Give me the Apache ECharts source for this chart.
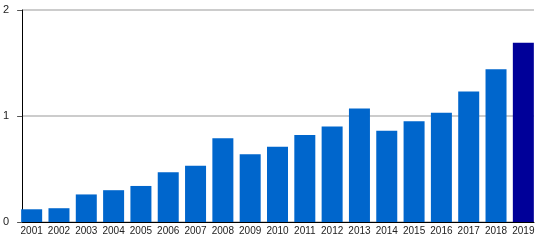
<!DOCTYPE html>
<html>
<head>
<meta charset="utf-8">
<script src="https://cdn.jsdelivr.net/npm/echarts@6/dist/echarts.min.js"></script>
<style>html,body{margin:0;padding:0;background:#fff}#c{width:540px;height:240px}</style>
</head>
<body>
<div id="c"></div>
<script>
const years = ['2001','2002','2003','2004','2005','2006','2007','2008','2009','2010','2011','2012','2013','2014','2015','2016','2017','2018','2019'];
const values = [0.12,0.13,0.26,0.30,0.34,0.47,0.53,0.79,0.64,0.71,0.82,0.90,1.07,0.86,0.95,1.03,1.23,1.44,1.69];
const yTicks = [0,1,2];
const barColor = '#0066cc';
const lastColor = '#000099';

const chart = echarts.init(document.getElementById('c'), null, {renderer:'canvas'});
const font = 'Liberation Sans, Arial, sans-serif';
chart.setOption({
  animation:false,
  grid:[
    {left:21, right:6, top:10, bottom:18},
    {left:18, right:3, top:10, bottom:18}
  ],
  xAxis:[
    {type:'category', gridIndex:0, data:years, axisLine:{lineStyle:{color:'#000', width:1}}, axisTick:{show:false}, axisLabel:{show:false}},
    {type:'category', gridIndex:1, data:years, axisLine:{show:false}, axisTick:{show:false},
     axisLabel:{color:'#222', fontSize:10, fontFamily:font, margin:4, interval:0}}
  ],
  yAxis:[
    {type:'value', gridIndex:0, min:yTicks[0], max:yTicks[yTicks.length-1], interval:1,
     axisLine:{show:true, lineStyle:{color:'#000', width:1}},
     axisTick:{show:true, length:5, lineStyle:{color:'#555'}},
     axisLabel:{color:'#222', fontSize:11, fontFamily:font, margin:13},
     splitLine:{show:true, lineStyle:{color:'#ccc', width:2}}},
    {type:'value', gridIndex:1, min:yTicks[0], max:yTicks[yTicks.length-1], interval:1, show:false}
  ],
  series:[{
    type:'bar', xAxisIndex:1, yAxisIndex:1,
    data: values.map((v,i)=>({value:v, itemStyle:{color: i===values.length-1 ? lastColor : barColor}})),
    barWidth:21,
    itemStyle:{borderColor:'rgba(120,170,230,0.5)', borderWidth:0}
  }]
});
</script>
</body>
</html>
